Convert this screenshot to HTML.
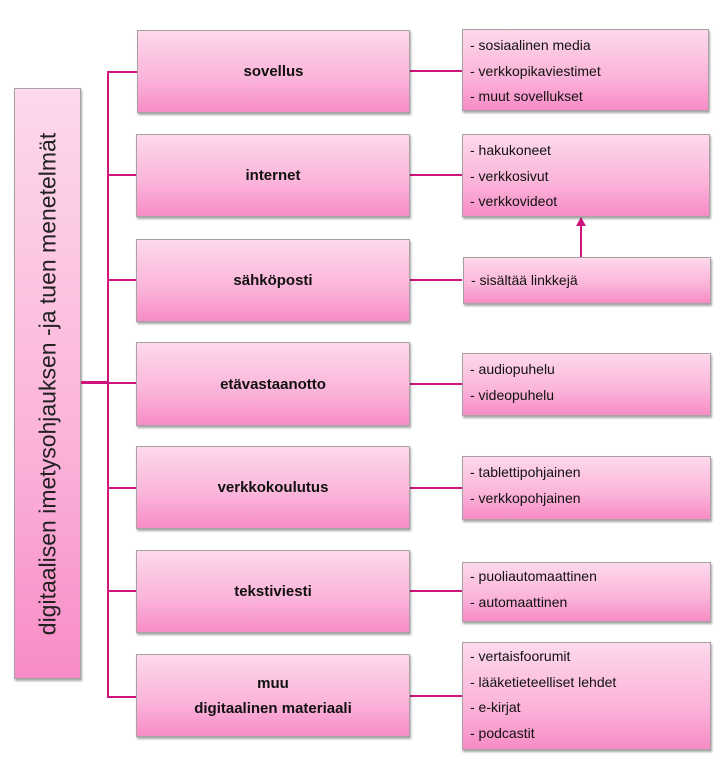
<!DOCTYPE html>
<html><head><meta charset="utf-8"><style>
body{margin:0;width:721px;height:760px;background:#fff;position:relative;overflow:hidden;font-family:"Liberation Sans","DejaVu Sans",sans-serif;}
.b{position:absolute;box-sizing:border-box;border:1px solid #a8a0a4;background:linear-gradient(#fdd9ec,#fbb3d9 60%,#f78cc6);box-shadow:1px 2px 2px rgba(0,0,0,.35);}
.m{display:flex;align-items:center;justify-content:center;text-align:center;font-weight:bold;font-size:15px;color:#111;line-height:25px;}
.r{font-size:14px;color:#111;line-height:25.5px;padding:3px 0 0 7px;}
.l{position:absolute;background:#d0147e;}
.v{position:absolute;left:14px;top:88px;width:67px;height:591px;}
.v span{position:absolute;left:50%;top:50%;transform:translate(-50%,-50%) rotate(-90deg);white-space:nowrap;font-size:23px;color:#222;}
</style></head><body>
<div class="b v"><span>digitaalisen imetysohjauksen -ja tuen menetelmät</span></div>
<div class="l" style="left:81px;top:381px;width:28px;height:3px"></div>
<div class="l" style="left:107px;top:71px;width:2px;height:627px"></div>
<div class="l" style="left:107px;top:71px;width:30px;height:2px"></div>
<div class="l" style="left:107px;top:174px;width:30px;height:2px"></div>
<div class="l" style="left:107px;top:279px;width:30px;height:2px"></div>
<div class="l" style="left:107px;top:382px;width:30px;height:2px"></div>
<div class="l" style="left:107px;top:487px;width:30px;height:2px"></div>
<div class="l" style="left:107px;top:590px;width:30px;height:2px"></div>
<div class="l" style="left:107px;top:696px;width:30px;height:2px"></div>

<div class="l" style="left:410px;top:70px;width:52px;height:2px"></div>
<div class="l" style="left:410px;top:174px;width:52px;height:2px"></div>
<div class="l" style="left:410px;top:279px;width:52px;height:2px"></div>
<div class="l" style="left:410px;top:383px;width:52px;height:2px"></div>
<div class="l" style="left:410px;top:487px;width:52px;height:2px"></div>
<div class="l" style="left:410px;top:590px;width:52px;height:2px"></div>
<div class="l" style="left:410px;top:695px;width:52px;height:2px"></div>
<div class="l" style="left:580px;top:224px;width:2px;height:33px"></div>
<div style="position:absolute;left:576px;top:217px;width:0;height:0;border-left:5px solid transparent;border-right:5px solid transparent;border-bottom:9px solid #d0147e"></div>

<div class="b m" style="left:137px;top:30px;width:273px;height:83px">sovellus</div>
<div class="b m" style="left:136px;top:134px;width:274px;height:83px">internet</div>
<div class="b m" style="left:136px;top:239px;width:274px;height:83px">sähköposti</div>
<div class="b m" style="left:136px;top:342px;width:274px;height:84px">etävastaanotto</div>
<div class="b m" style="left:136px;top:446px;width:274px;height:83px">verkkokoulutus</div>
<div class="b m" style="left:136px;top:550px;width:274px;height:83px">tekstiviesti</div>
<div class="b m" style="left:136px;top:654px;width:274px;height:83px">muu<br>digitaalinen materiaali</div>

<div class="b r" style="left:462px;top:29px;width:247px;height:82px">- sosiaalinen media<br>- verkkopikaviestimet<br>- muut sovellukset</div>
<div class="b r" style="left:462px;top:134px;width:248px;height:83px">- hakukoneet<br>- verkkosivut<br>- verkkovideot</div>
<div class="b r" style="left:463px;top:257px;width:248px;height:47px;padding-top:10px">- sisältää linkkejä</div>
<div class="b r" style="left:462px;top:353px;width:249px;height:63px">- audiopuhelu<br>- videopuhelu</div>
<div class="b r" style="left:462px;top:456px;width:249px;height:64px">- tablettipohjainen<br>- verkkopohjainen</div>
<div class="b r" style="left:462px;top:562px;width:249px;height:60px;padding-top:1px">- puoliautomaattinen<br>- automaattinen</div>
<div class="b r" style="left:462px;top:642px;width:249px;height:108px;padding-top:1px">- vertaisfoorumit<br>- lääketieteelliset lehdet<br>- e-kirjat<br>- podcastit</div>
</body></html>
